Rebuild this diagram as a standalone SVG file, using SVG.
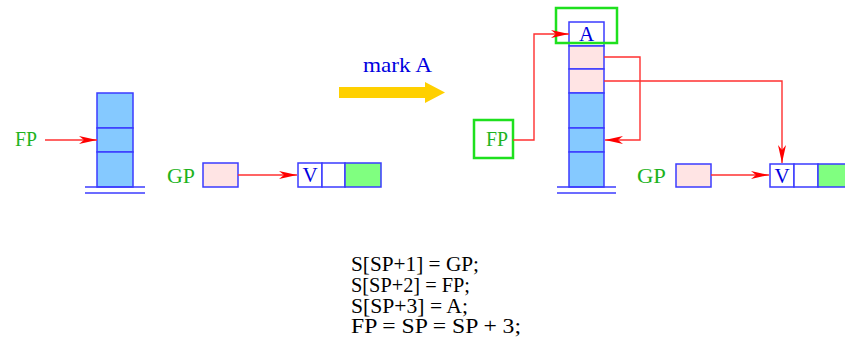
<svg xmlns="http://www.w3.org/2000/svg" width="845" height="346" viewBox="0 0 845 346">
<style>
.cell{stroke:#3b3bff;stroke-width:1.5}
.blue{fill:#85c9ff}
.pink{fill:#ffe4e4}
.white{fill:#ffffff}
.green{fill:#80ff80}
.base{stroke:#3b3bff;stroke-width:1.5}
.lbl{font-family:"Liberation Serif",serif;font-size:21px;fill:#1db31d}
.btxt{font-family:"Liberation Serif",serif;font-size:21px;fill:#0000e0}
.code{font-family:"Liberation Serif",serif;font-size:20px;fill:#000}
.gbox{fill:none;stroke:#1ee01e;stroke-width:2.5}
.conn{fill:none;stroke:#ff3030;stroke-width:1.4}
</style>
<defs>
<marker id="ah" viewBox="0 0 18 10" refX="18" refY="5" markerWidth="18" markerHeight="10" markerUnits="userSpaceOnUse" orient="auto">
<path d="M0,1 L18,5 L0,9 L5,5 z" fill="#ff0000"/>
</marker>
</defs>

<g id="stack-left">
<rect class="cell blue" x="97" y="93" width="36" height="35"/>
<rect class="cell blue" x="97" y="128" width="36" height="24"/>
<rect class="cell blue" x="97" y="152" width="36" height="35"/>
<line class="base" x1="85" y1="187" x2="145" y2="187"/>
<line class="base" x1="85" y1="193" x2="145" y2="193"/>
</g>
<g id="fp-left"><text class="lbl" x="15" y="146" textLength="22" lengthAdjust="spacingAndGlyphs">FP</text></g>
<g id="gp-left"><text class="lbl" x="167" y="183" textLength="28" lengthAdjust="spacingAndGlyphs">GP</text></g>
<g id="gp-box-left"><rect class="cell pink" x="203" y="163" width="35" height="24"/></g>
<g id="v-left">
<rect class="cell white" x="298" y="163" width="24" height="24"/>
<text class="btxt" x="310" y="182" text-anchor="middle">V</text>
<rect class="cell white" x="322" y="163" width="23" height="24"/>
<rect class="cell green" x="345" y="163" width="36" height="24"/>
</g>

<g id="mark-a">
<text class="btxt" x="363" y="72" font-size="22" textLength="69" lengthAdjust="spacingAndGlyphs">mark A</text>
<path d="M339,87 L425,87 L425,82 L445,92.5 L425,103 L425,98 L339,98 z" fill="#ffd000"/>
</g>

<g id="stack-right">
<rect class="cell white" x="569" y="22" width="35" height="24"/>
<text class="btxt" x="586.5" y="41" text-anchor="middle">A</text>
<rect class="cell pink" x="569" y="46" width="35" height="23"/>
<rect class="cell pink" x="569" y="69" width="35" height="24"/>
<rect class="cell blue" x="569" y="93" width="35" height="35"/>
<rect class="cell blue" x="569" y="128" width="35" height="24"/>
<rect class="cell blue" x="569" y="152" width="35" height="35"/>
<line class="base" x1="557" y1="187" x2="616" y2="187"/>
<line class="base" x1="557" y1="193" x2="616" y2="193"/>
</g>
<g id="a-box"><rect class="gbox" x="556" y="8" width="61" height="35"/></g>
<g id="fp-right">
<rect class="gbox" x="474" y="120" width="39" height="38"/>
<text class="lbl" x="486" y="146" textLength="22" lengthAdjust="spacingAndGlyphs">FP</text>
</g>
<g id="gp-right"><text class="lbl" x="637" y="183" textLength="29" lengthAdjust="spacingAndGlyphs">GP</text></g>
<g id="gp-box-right"><rect class="cell pink" x="676" y="164" width="35" height="23"/></g>
<g id="v-right">
<rect class="cell white" x="770" y="164" width="24" height="23"/>
<text class="btxt" x="782" y="183" text-anchor="middle">V</text>
<rect class="cell white" x="794" y="164" width="24" height="23"/>
<rect class="cell green" x="818" y="164" width="36" height="23"/>
</g>

<g id="code">
<text class="code" x="351" y="271" textLength="128" lengthAdjust="spacingAndGlyphs">S[SP+1] = GP;</text>
<text class="code" x="351" y="292" textLength="119" lengthAdjust="spacingAndGlyphs">S[SP+2] = FP;</text>
<text class="code" x="351" y="313" textLength="117" lengthAdjust="spacingAndGlyphs">S[SP+3] = A;</text>
<text class="code" x="351" y="333" textLength="170" lengthAdjust="spacingAndGlyphs">FP = SP = SP + 3;</text>
</g>

<g id="connectors">
<line class="conn" x1="45" y1="140" x2="97" y2="140" marker-end="url(#ah)"/>
<line class="conn" x1="238" y1="175" x2="297" y2="175" marker-end="url(#ah)"/>
<polyline class="conn" points="513,140 534,140 534,34 569,34" marker-end="url(#ah)"/>
<polyline class="conn" points="604,57 640,57 640,140 605,140" marker-end="url(#ah)"/>
<polyline class="conn" points="604,81 782,81 782,163" marker-end="url(#ah)"/>
<line class="conn" x1="711" y1="175" x2="769" y2="175" marker-end="url(#ah)"/>
</g>
</svg>
